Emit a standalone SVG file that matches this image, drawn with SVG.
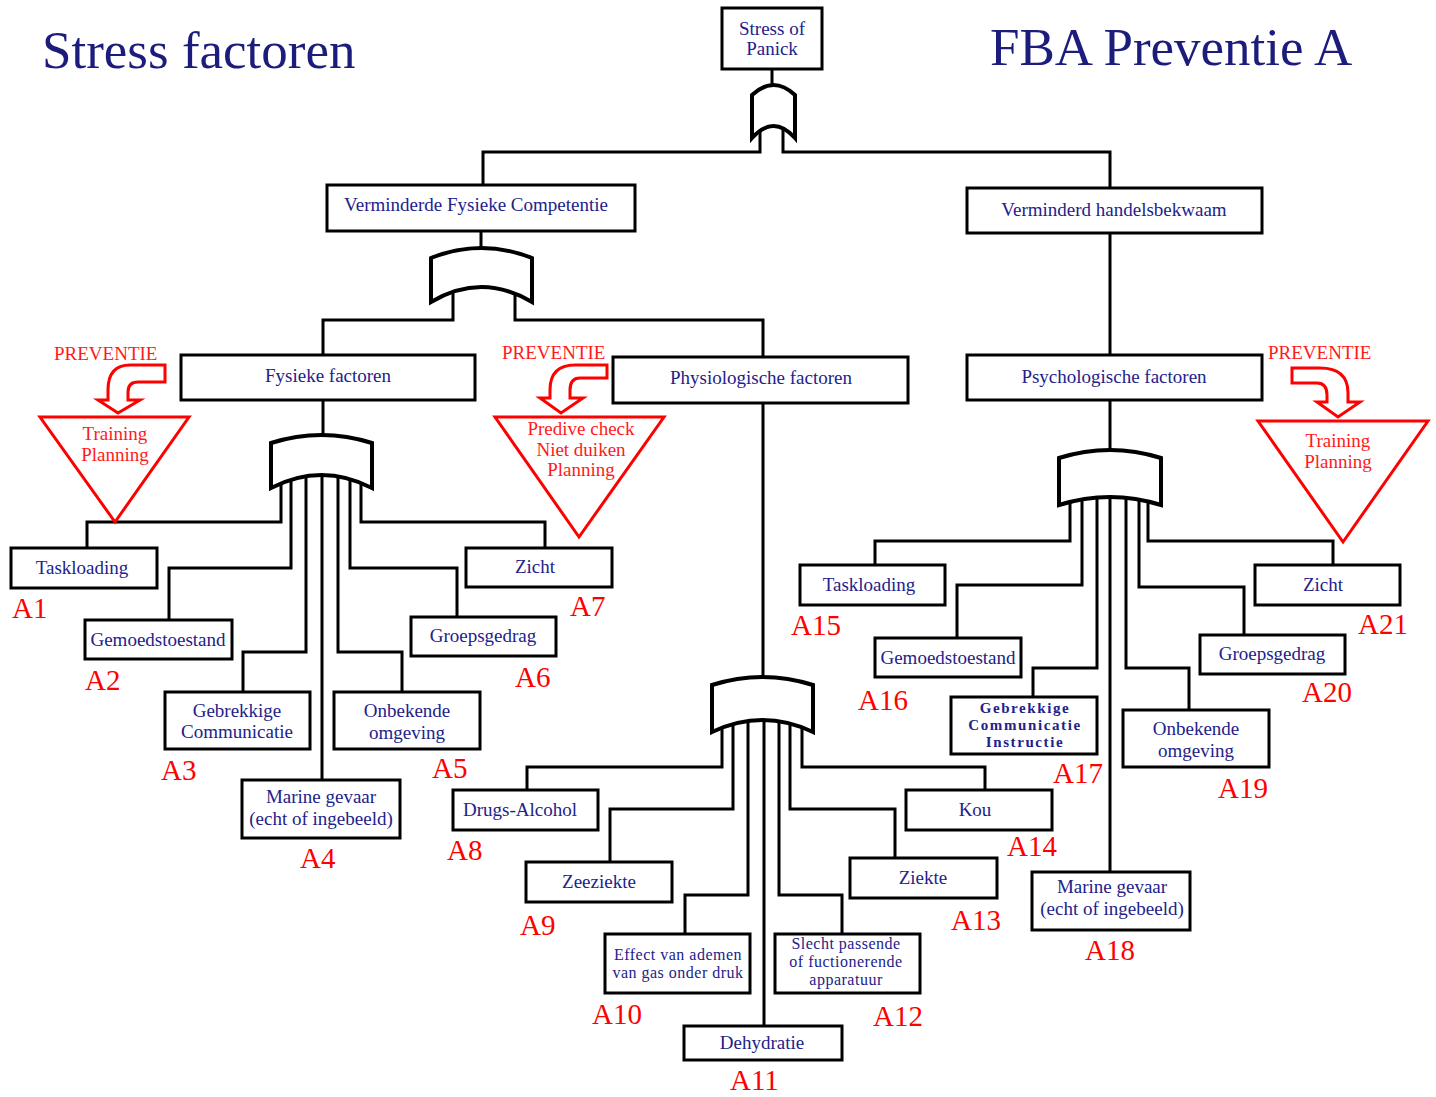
<svg xmlns="http://www.w3.org/2000/svg" width="1436" height="1097" viewBox="0 0 1436 1097">
<style>
.bx{fill:#fff;stroke:#000;stroke-width:3}
.gt{fill:#fff;stroke:#000;stroke-width:4;stroke-linejoin:miter}
.cn{fill:none;stroke:#000;stroke-width:3;stroke-linejoin:miter}
.t{font-family:"Liberation Serif","Times New Roman",serif;font-size:19px;fill:#22228a;text-anchor:middle}
.ts{font-family:"Liberation Serif","Times New Roman",serif;font-size:16px;letter-spacing:0.5px;fill:#22228a;text-anchor:middle}
.tb{font-family:"Liberation Serif","Times New Roman",serif;font-size:15px;font-weight:bold;letter-spacing:1.6px;fill:#22228a;text-anchor:middle}
.title{font-family:"Liberation Serif","Times New Roman",serif;font-size:53px;fill:#1c1c7c}
.lab{font-family:"Liberation Serif","Times New Roman",serif;font-size:29px;fill:#ff0000}
.red{font-family:"Liberation Serif","Times New Roman",serif;font-size:19px;fill:#ff1a1a}
.redc{font-family:"Liberation Serif","Times New Roman",serif;font-size:19px;fill:#ff1a1a;text-anchor:middle}
.tri{fill:#fff;stroke:#ff0000;stroke-width:3;stroke-linejoin:miter}
.arr{fill:#fff;stroke:#ff0000;stroke-width:3;stroke-linejoin:miter}
</style>
<rect x="0" y="0" width="1436" height="1097" fill="#fff"/>
<text class="title" x="42" y="68">Stress factoren</text>
<text class="title" x="990" y="65">FBA Preventie A</text>

<g id="connectors">
<path class="cn" d="M772,69 V90"/>
<path class="cn" d="M760,125 V152 H483 V185"/>
<path class="cn" d="M783,125 V152 H1110 V188"/>
<path class="cn" d="M481,231 V252"/>
<path class="cn" d="M453,290 V320 H323 V355"/>
<path class="cn" d="M515,290 V320 H763 V357"/>
<path class="cn" d="M1110,233 V355"/>
<path class="cn" d="M323,400 V438"/>
<path class="cn" d="M281,476 V522 H87 V548"/>
<path class="cn" d="M291,476 V568 H169 V620"/>
<path class="cn" d="M306,476 V652 H243 V692"/>
<path class="cn" d="M322,476 V780"/>
<path class="cn" d="M338,476 V652 H402 V692"/>
<path class="cn" d="M350,476 V568 H457 V617"/>
<path class="cn" d="M361,476 V522 H545 V548"/>
<path class="cn" d="M763,403 V680"/>
<path class="cn" d="M722,720 V767 H527 V790"/>
<path class="cn" d="M733,720 V809 H610 V862"/>
<path class="cn" d="M748,720 V895 H685 V934"/>
<path class="cn" d="M764,720 V1026"/>
<path class="cn" d="M779,720 V895 H842 V934"/>
<path class="cn" d="M790,720 V809 H895 V858"/>
<path class="cn" d="M802,720 V767 H985 V790"/>
<path class="cn" d="M1110,400 V454"/>
<path class="cn" d="M1070,497 V541 H875 V565"/>
<path class="cn" d="M1082,497 V585 H957 V638"/>
<path class="cn" d="M1097,497 V668 H1033 V697"/>
<path class="cn" d="M1110,497 V872"/>
<path class="cn" d="M1126,497 V668 H1189 V710"/>
<path class="cn" d="M1139,497 V587 H1244 V635"/>
<path class="cn" d="M1148,497 V541 H1333 V565"/>
</g>

<g id="gates">
<path id="gate-top" class="gt" d="M752,138 L752,95 Q773.5,75 795,95 L795,138 Q773.5,114 752,138 Z"/>
<path id="gate-vfc" class="gt" d="M431,302 L431,258 Q481.5,238 532,258 L532,302 Q481.5,272 431,302 Z"/>
<path id="gate-fys" class="gt" d="M271,488 L271,443 Q321.5,427 372,443 L372,488 Q321.5,462 271,488 Z"/>
<path id="gate-phys" class="gt" d="M712,732 L712,685 Q762.5,669 813,685 L813,732 Q762.5,708 712,732 Z"/>
<path id="gate-psy" class="gt" d="M1059,505 L1059,458 Q1110,442 1161,458 L1161,505 Q1110,489 1059,505 Z"/>
</g>

<g id="n-top"><rect class="bx" x="722" y="8" width="100" height="61"/><text class="t" x="772" y="35">Stress of</text><text class="t" x="772" y="55">Panick</text></g>
<g id="n-vfc"><rect class="bx" x="327" y="185" width="308" height="46"/><text class="t" x="476" y="211">Verminderde Fysieke Competentie</text></g>
<g id="n-vhb"><rect class="bx" x="967" y="188" width="295" height="45"/><text class="t" x="1114" y="216">Verminderd handelsbekwaam</text></g>
<g id="n-fys"><rect class="bx" x="181" y="355" width="294" height="45"/><text class="t" x="328" y="382">Fysieke factoren</text></g>
<g id="n-phys"><rect class="bx" x="613" y="357" width="295" height="46"/><text class="t" x="761" y="384">Physiologische factoren</text></g>
<g id="n-psy"><rect class="bx" x="967" y="355" width="295" height="45"/><text class="t" x="1114" y="383">Psychologische factoren</text></g>

<g id="prev-left">
<text class="red" x="54" y="360">PREVENTIE</text>
<path class="arr" d="M165,365 L130,365 Q108,365 108,390 L108,400 L98,400 L118,413 L140,400 L128,400 L128,392 Q128,382 138,382 L165,382 Z"/>
<polygon class="tri" points="40,417 189,417 115,522"/>
<text class="redc" x="115" y="440">Training</text>
<text class="redc" x="115" y="461">Planning</text>
</g>
<g id="prev-mid">
<text class="red" x="502" y="359">PREVENTIE</text>
<path class="arr" d="M607,365 L575,365 Q550,365 550,390 L550,398 L540,398 L561,413 L583,398 L570,398 L570,390 Q570,378 580,378 L607,378 Z"/>
<polygon class="tri" points="495,417 664,417 579,537"/>
<text class="redc" x="581" y="435">Predive check</text>
<text class="redc" x="581" y="456">Niet duiken</text>
<text class="redc" x="581" y="476">Planning</text>
</g>
<g id="prev-right">
<text class="red" x="1268" y="359">PREVENTIE</text>
<path class="arr" d="M1292,368 L1320,368 Q1348,368 1348,393 L1348,402 L1360,402 L1338,417 L1317,402 L1327,402 L1327,395 Q1327,383 1317,383 L1292,383 Z"/>
<polygon class="tri" points="1258,421 1428,421 1343,542"/>
<text class="redc" x="1338" y="447">Training</text>
<text class="redc" x="1338" y="468">Planning</text>
</g>

<g id="A1"><rect class="bx" x="11" y="548" width="146" height="40"/><text class="t" x="82" y="574">Taskloading</text><text class="lab" x="12" y="618">A1</text></g>
<g id="A2"><rect class="bx" x="85" y="620" width="147" height="39"/><text class="t" x="158" y="646">Gemoedstoestand</text><text class="lab" x="85" y="690">A2</text></g>
<g id="A3"><rect class="bx" x="165" y="692" width="145" height="57"/><text class="t" x="237" y="717">Gebrekkige</text><text class="t" x="237" y="738">Communicatie</text><text class="lab" x="161" y="780">A3</text></g>
<g id="A4"><rect class="bx" x="242" y="780" width="158" height="58"/><text class="t" x="321" y="803">Marine gevaar</text><text class="t" x="321" y="825">(echt of ingebeeld)</text><text class="lab" x="300" y="868">A4</text></g>
<g id="A5"><rect class="bx" x="334" y="692" width="146" height="57"/><text class="t" x="407" y="717">Onbekende</text><text class="t" x="407" y="739">omgeving</text><text class="lab" x="432" y="778">A5</text></g>
<g id="A6"><rect class="bx" x="411" y="617" width="145" height="39"/><text class="t" x="483" y="642">Groepsgedrag</text><text class="lab" x="515" y="687">A6</text></g>
<g id="A7"><rect class="bx" x="466" y="548" width="146" height="39"/><text class="t" x="535" y="573">Zicht</text><text class="lab" x="570" y="616">A7</text></g>

<g id="A8"><rect class="bx" x="453" y="790" width="145" height="40"/><text class="t" x="520" y="816">Drugs-Alcohol</text><text class="lab" x="447" y="860">A8</text></g>
<g id="A9"><rect class="bx" x="526" y="862" width="146" height="40"/><text class="t" x="599" y="888">Zeeziekte</text><text class="lab" x="520" y="935">A9</text></g>
<g id="A10"><rect class="bx" x="605" y="934" width="145" height="59"/><text class="ts" x="678" y="960">Effect van ademen</text><text class="ts" x="678" y="978">van gas onder druk</text><text class="lab" x="592" y="1024">A10</text></g>
<g id="A11"><rect class="bx" x="684" y="1026" width="158" height="34"/><text class="t" x="762" y="1049">Dehydratie</text><text class="lab" x="730" y="1090">A11</text></g>
<g id="A12"><rect class="bx" x="775" y="934" width="145" height="59"/><text class="ts" x="846" y="949">Slecht passende</text><text class="ts" x="846" y="967">of fuctionerende</text><text class="ts" x="846" y="985">apparatuur</text><text class="lab" x="873" y="1026">A12</text></g>
<g id="A13"><rect class="bx" x="850" y="858" width="147" height="40"/><text class="t" x="923" y="884">Ziekte</text><text class="lab" x="951" y="930">A13</text></g>
<g id="A14"><rect class="bx" x="906" y="790" width="146" height="40"/><text class="t" x="975" y="816">Kou</text><text class="lab" x="1007" y="856">A14</text></g>

<g id="A15"><rect class="bx" x="800" y="565" width="145" height="40"/><text class="t" x="869" y="591">Taskloading</text><text class="lab" x="791" y="635">A15</text></g>
<g id="A16"><rect class="bx" x="875" y="638" width="146" height="39"/><text class="t" x="948" y="664">Gemoedstoestand</text><text class="lab" x="858" y="710">A16</text></g>
<g id="A17"><rect class="bx" x="951" y="697" width="146" height="57"/><text class="tb" x="1025" y="713">Gebrekkige</text><text class="tb" x="1025" y="730">Communicatie</text><text class="tb" x="1025" y="747">Instructie</text><text class="lab" x="1053" y="783">A17</text></g>
<g id="A18"><rect class="bx" x="1032" y="872" width="158" height="58"/><text class="t" x="1112" y="893">Marine gevaar</text><text class="t" x="1112" y="915">(echt of ingebeeld)</text><text class="lab" x="1085" y="960">A18</text></g>
<g id="A19"><rect class="bx" x="1123" y="710" width="146" height="57"/><text class="t" x="1196" y="735">Onbekende</text><text class="t" x="1196" y="757">omgeving</text><text class="lab" x="1218" y="798">A19</text></g>
<g id="A20"><rect class="bx" x="1200" y="635" width="145" height="39"/><text class="t" x="1272" y="660">Groepsgedrag</text><text class="lab" x="1302" y="702">A20</text></g>
<g id="A21"><rect class="bx" x="1255" y="565" width="145" height="40"/><text class="t" x="1323" y="591">Zicht</text><text class="lab" x="1358" y="634">A21</text></g>
</svg>
